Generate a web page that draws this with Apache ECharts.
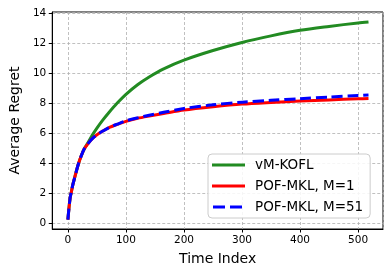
<!DOCTYPE html>
<html><head><meta charset="utf-8">
<script src="https://cdn.jsdelivr.net/npm/echarts@6/dist/echarts.min.js"></script>
<style>html,body{margin:0;padding:0;background:#fff}#c{width:389px;height:274px}</style>
</head><body><div id="c"></div>
<script>
const timeIndex = [0,1,2,3,4,6,8,11,14,18,23,28,35,42,50,60,70,85,100,120,140,165,200,250,300,350,400,450,500,518];
const vmKOFL   = [0.25,0.7,1.1,1.45,1.75,2.1,2.5,2.95,3.4,3.95,4.5,4.95,5.4,5.88,6.35,6.88,7.36,8.02,8.6,9.24,9.76,10.3,10.88,11.52,12.06,12.5,12.87,13.13,13.36,13.43];
const pofM1    = [0.25,0.7,1.1,1.45,1.75,2.1,2.5,2.95,3.4,3.95,4.5,4.95,5.33,5.65,5.9,6.15,6.37,6.6,6.8,7.0,7.15,7.32,7.55,7.77,7.95,8.06,8.15,8.23,8.3,8.32];
const pofM51   = [0.25,0.7,1.1,1.45,1.75,2.1,2.5,2.95,3.4,3.95,4.5,4.95,5.33,5.65,5.9,6.15,6.37,6.61,6.83,7.03,7.2,7.4,7.66,7.9,8.08,8.2,8.31,8.42,8.52,8.56];
const seriesNames = ['vM-KOFL','POF-MKL, M=1','POF-MKL, M=51'];

const pair = a => timeIndex.map((t,i)=>[t,a[i]]);
const font = 'DejaVu Sans';
const solidIcon = 'path://M0,0h33v3h-33z';
const dashIcon = 'path://M0,0h0.01v3h-0.01z M1,0h12v3h-12z M18,0h12v3h-12z M32.99,0h0.01v3h-0.01z';
const chart = echarts.init(document.getElementById('c'), null, {renderer:'canvas'});
const gridLine = {show:true, lineStyle:{color:'#b0b0b0', type:[3,2], width:0.8}};
chart.setOption({
  animation:false,
  backgroundColor:'#fff',
  grid:{left:47, right:6, top:12, bottom:45, show:true, borderColor:'#000', borderWidth:1, backgroundColor:'transparent'},
  xAxis:{type:'value', min:-27, max:543, splitNumber:5,
    name:'Time Index', nameLocation:'middle', nameGap:23,
    nameTextStyle:{fontFamily:font, fontSize:14, color:'#000'},
    axisLine:{show:true, onZero:false, lineStyle:{color:'#000'}},
    axisTick:{show:true, length:3.5, lineStyle:{color:'#000'}},
    axisLabel:{fontFamily:font, fontSize:10.5, color:'#000', margin:6, showMinLabel:false, showMaxLabel:false},
    splitLine:gridLine},
  yAxis:{type:'value', min:-0.38, max:14.09, splitNumber:7,
    name:'Average Regret', nameLocation:'middle', nameGap:29,
    nameTextStyle:{fontFamily:font, fontSize:14, color:'#000'},
    axisLine:{show:true, onZero:false, lineStyle:{color:'#000'}},
    axisTick:{show:true, length:3.5, lineStyle:{color:'#000'}},
    axisLabel:{fontFamily:font, fontSize:10.5, color:'#000', margin:6, showMinLabel:false, showMaxLabel:false},
    splitLine:gridLine},
  legend:{left:208, top:154, orient:'vertical', itemWidth:33, itemHeight:3, itemGap:7,
    padding:[4,7,4,4], borderColor:'#cccccc', borderWidth:1, borderRadius:4,
    backgroundColor:'rgba(255,255,255,0.85)',
    itemStyle:{borderWidth:0},
    textStyle:{fontFamily:font, fontSize:13.5, color:'#000', padding:[0,0,0,5], lineHeight:14},
    data:[
      {name:seriesNames[0], icon:solidIcon, itemStyle:{color:'#228b22'}},
      {name:seriesNames[1], icon:solidIcon, itemStyle:{color:'#ff0000'}},
      {name:seriesNames[2], icon:dashIcon, itemStyle:{color:'#0000ff'}}
    ]},
  series:[
    {name:seriesNames[0], type:'line', data:pair(vmKOFL), symbol:'none', smooth:0.3,
      lineStyle:{color:'#228b22', width:3}, itemStyle:{color:'#228b22'}, z:2},
    {name:seriesNames[1], type:'line', data:pair(pofM1), symbol:'none', smooth:0.3,
      lineStyle:{color:'#ff0000', width:3}, itemStyle:{color:'#ff0000'}, z:3},
    {name:seriesNames[2], type:'line', data:pair(pofM51), symbol:'none', smooth:0.3,
      lineStyle:{color:'#0000ff', width:3, type:[11,4.8]}, itemStyle:{color:'#0000ff'}, z:4}
  ]
});
</script></body></html>
